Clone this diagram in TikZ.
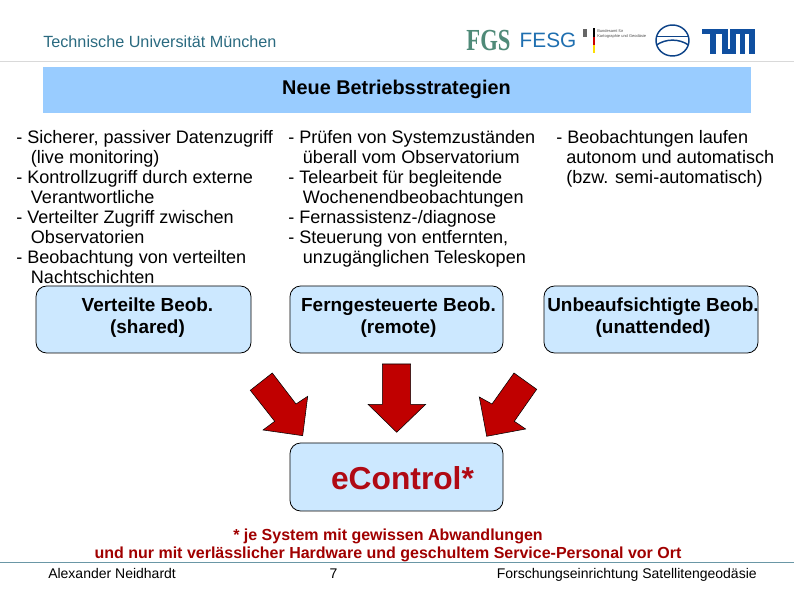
\documentclass[tikz,border=0pt]{standalone}
\usepackage{fontspec}
\setmainfont{Liberation Sans}
\newfontfamily\serifl{Liberation Serif}
\definecolor{boxfill}{HTML}{CCE8FF}
\definecolor{hdrfill}{HTML}{99CCFF}
\definecolor{arrowred}{HTML}{C00000}
\definecolor{darkred}{HTML}{A00000}
\definecolor{ecred}{HTML}{B00A14}
\definecolor{tumteal}{HTML}{2A6A80}
\definecolor{tumblue}{HTML}{0F4FA0}
\definecolor{fesgblue}{HTML}{1F6FB0}
\definecolor{fgsgreen}{HTML}{4F8A78}
\tikzset{
  x=0.75pt,y=-0.75pt,
  bluebox/.style={draw=black,line width=0.6pt,fill=boxfill,rounded corners=8pt},
  boxtext/.style={font=\fontsize{14.2pt}{16.5pt}\selectfont\bfseries,align=center,anchor=center,inner sep=0pt},
  bodytext/.style={font=\fontsize{13.55pt}{15pt}\selectfont,align=left,anchor=north west,inner sep=0pt},
  blockarrow/.style={draw=black,line width=0.4pt,fill=arrowred},
  foot/.style={font=\fontsize{10.5pt}{12pt}\selectfont,anchor=base,inner sep=0pt},
  note/.style={font=\fontsize{12pt}{14pt}\selectfont\bfseries,text=darkred,anchor=center,inner sep=0pt},
}
\begin{document}
\begin{tikzpicture}
\useasboundingbox (0,0) rectangle (794,595);
% header
\node[font=\fontsize{12.15pt}{13pt}\selectfont,text=tumteal,anchor=west,inner sep=0pt] (uni) at (43,42) {Technische Universität München};
\draw[line width=0.5pt,draw=black!15] (0,61.5) -- (794,61.5);
\fill[hdrfill] (43,67) rectangle (751,113);
\node[font=\fontsize{14.9pt}{16pt}\selectfont\bfseries,inner sep=0pt] (title) at (396.5,89) {Neue Betriebsstrategien};
% logos
\node[font=\serifl\fontsize{17pt}{17pt}\selectfont\bfseries,text=fgsgreen,inner sep=0pt] (fgs) at (488.5,40.5) {\scalebox{1}[1.35]{FGS}};
\node[font=\fontsize{15.6pt}{16pt}\selectfont,text=fesgblue,inner sep=0pt] (fesg) at (548,40) {FESG};
\fill[black!60] (583,29) rectangle (587,37);
\fill[black] (593,28) rectangle (594.6,37);
\fill[red!80!black] (593,37) rectangle (594.6,45);
\fill[yellow!80!orange] (593,45) rectangle (594.6,53);
\node[font=\fontsize{3pt}{4pt}\selectfont,text=black!70,align=left,anchor=north west,inner sep=0pt] (bkg) at (597,29) {Bundesamt für\\Kartographie und Geodäsie};
\draw[tumblue!85!black,line width=1.1pt] (672.5,40.5) ellipse (16.5 and 15.5);
\draw[tumblue!85!black,line width=1.1pt] (656.5,36.5) -- (688.5,36.5);
\draw[tumblue!85!black,line width=1.1pt] (656.5,45) .. controls (666,38.5) and (679,38.5) .. (688.5,45);
\fill[tumblue] (702,29) rectangle (727.5,34);
\fill[tumblue] (710,29) rectangle (716,54.5);
\fill[tumblue] (722,29) rectangle (727.5,54.5);
\fill[tumblue] (722,49.5) rectangle (735.5,54.5);
\fill[tumblue] (730,29) rectangle (754.5,34);
\fill[tumblue] (730,29) rectangle (735.5,54.5);
\fill[tumblue] (739.5,29) rectangle (745,54.5);
\fill[tumblue] (749,29) rectangle (754.5,54.5);
% text columns
\node[bodytext] (c1) at (16,130) {%
\setlength{\baselineskip}{19.9\dimexpr0.75pt\relax}%
- Sicherer, passiver Datenzugriff\\
\hspace*{11pt}(live monitoring)\\
- Kontrollzugriff durch externe\\
\hspace*{11pt}Verantwortliche\\
- Verteilter Zugriff zwischen\\
\hspace*{11pt}Observatorien\\
- Beobachtung von verteilten\\
\hspace*{11pt}Nachtschichten};
\node[bodytext] (c2) at (288,130) {%
\setlength{\baselineskip}{19.9\dimexpr0.75pt\relax}%
- Prüfen von Systemzuständen\\
\hspace*{11pt}überall vom Observatorium\\
- Telearbeit für begleitende\\
\hspace*{11pt}Wochenendbeobachtungen\\
- Fernassistenz-/diagnose\\
- Steuerung von entfernten,\\
\hspace*{11pt}unzugänglichen Teleskopen};
\node[bodytext] (c3) at (556,130) {%
\setlength{\baselineskip}{19.9\dimexpr0.75pt\relax}%
- Beobachtungen laufen\\
\hspace*{7.5pt}autonom und automatisch\\
\hspace*{7.5pt}(bzw. semi-automatisch)};
% boxes
\draw[bluebox] (36,286) rectangle (251,353);
\draw[bluebox] (290,286) rectangle (503,353);
\draw[bluebox] (544,286) rectangle (758,353);
\draw[bluebox] (290,443) rectangle (503,511);
\node[boxtext] (b1) at (147.5,317.5) {Verteilte Beob.\\(shared)};
\node[boxtext] (b2) at (398.5,317.5) {Ferngesteuerte Beob.\\(remote)};
\node[boxtext] (b3) at (653,317.5) {Unbeaufsichtigte Beob.\\(unattended)};
\node[font=\fontsize{23.8pt}{24pt}\selectfont\bfseries,text=ecred,inner sep=0pt] (ec) at (402.5,478) {eControl*};
% arrows
\draw[blockarrow] (272.3,373) -- (296,404) -- (307.7,396.3) -- (302.7,435.7) -- (263,430) -- (274.7,421.3) -- (250.3,390.3) -- cycle;
\draw[blockarrow] (382.3,364) -- (410.7,364) -- (410.7,404.3) -- (425.7,404.3) -- (396.7,432.3) -- (368,404.3) -- (382.3,404.3) -- cycle;
\draw[blockarrow] (514,373) -- (492,404) -- (479.3,397) -- (486.7,436.3) -- (525.7,429) -- (514.3,421.3) -- (536.7,389.3) -- cycle;
% notes and footer
\node[note] (n1) at (388,536) {* je System mit gewissen Abwandlungen};
\node[note] (n2) at (388,554) {und nur mit verlässlicher Hardware und geschultem Service-Personal vor Ort};
\draw[line width=0.6pt,draw=tumteal!70] (0,562.5) -- (794,562.5);
\node[foot,anchor=base west] (f1) at (48,579) {Alexander Neidhardt};
\node[foot] (f2) at (333.5,579) {7};
\node[foot,anchor=base east] (f3) at (757,579) {Forschungseinrichtung Satellitengeodäsie};
\end{tikzpicture}
\end{document}
